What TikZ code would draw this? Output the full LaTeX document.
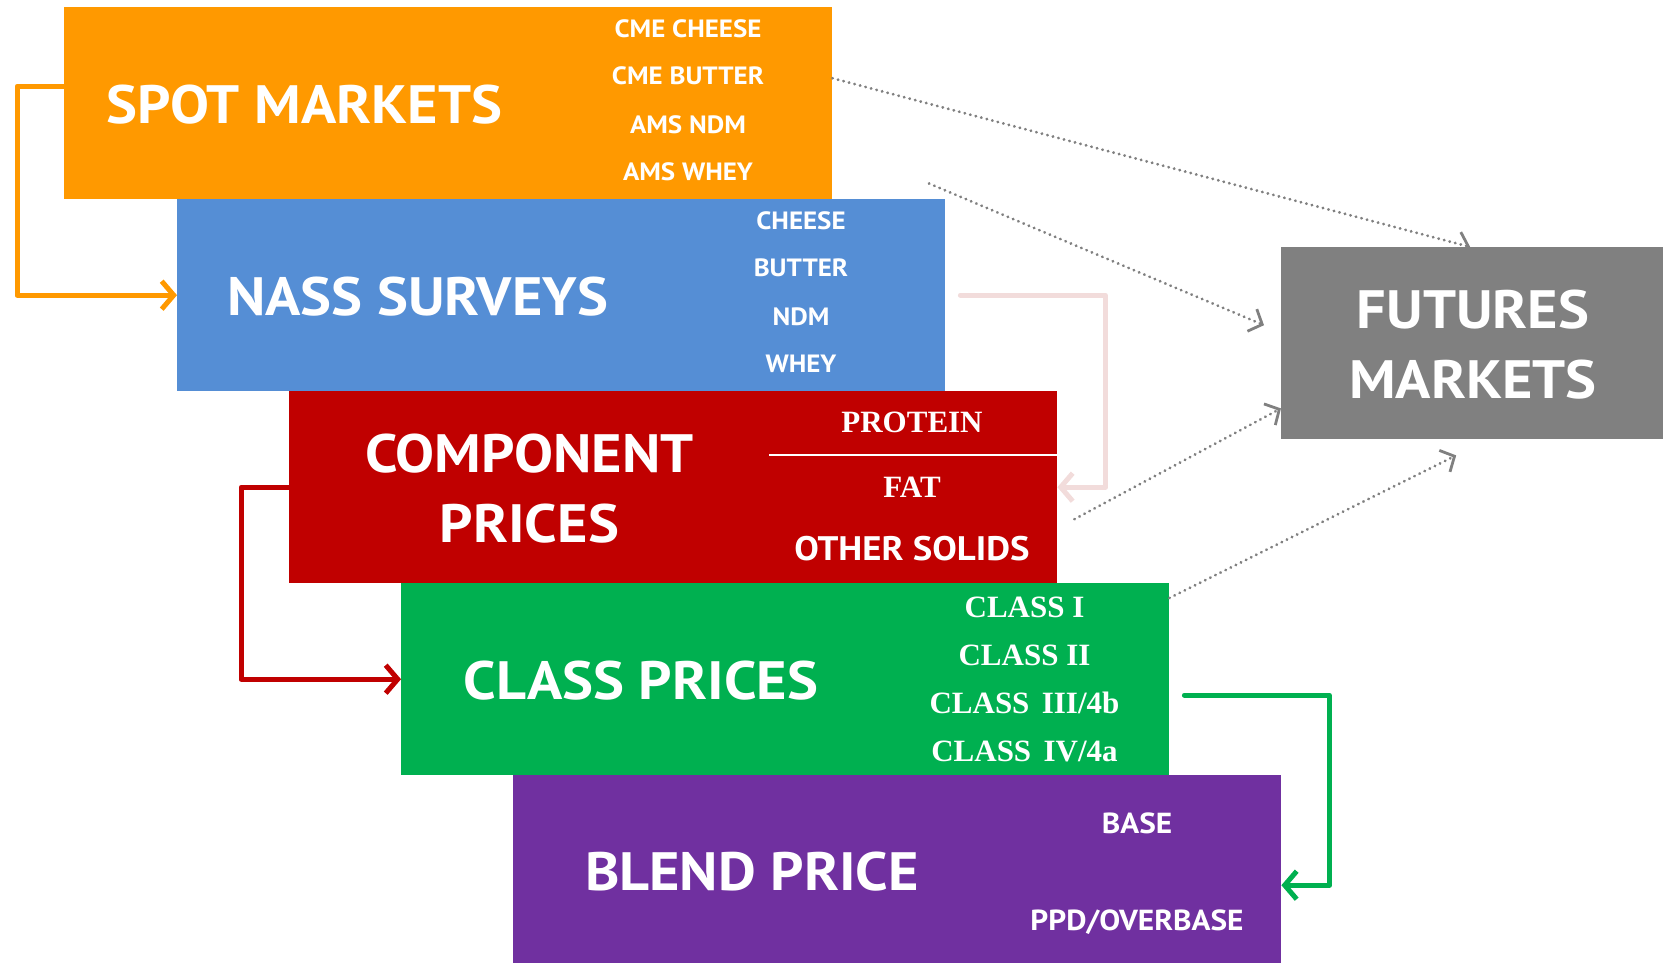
\documentclass[tikz,border=0pt]{standalone}
\usepackage{fontspec}
\setmainfont{PT Sans}[FakeStretch=1.08]
\newfontfamily\serifx{Liberation Serif}
\usetikzlibrary{arrows.meta}
\definecolor{cOrange}{HTML}{FF9900}
\definecolor{cBlue}{HTML}{558ED5}
\definecolor{cRed}{HTML}{C00000}
\definecolor{cGreen}{HTML}{00B050}
\definecolor{cPurple}{HTML}{7030A0}
\definecolor{cGray}{HTML}{808080}
\definecolor{cPink}{HTML}{F2DCDB}
\begin{document}
\begin{tikzpicture}[x=1pt,y={(0pt,-1pt)},
  box/.style={rectangle, inner sep=0pt, minimum width=768pt, minimum height=192pt, anchor=north west},
  big/.style={text=white, inner sep=0pt, anchor=base, font=\bfseries\fontsize{54}{60}\selectfont},
  small/.style={text=white, inner sep=0pt, anchor=base, font=\bfseries\fontsize{25}{30}\selectfont},
  mid/.style={text=white, inner sep=0pt, anchor=base, font=\bfseries\fontsize{29}{34}\selectfont},
  midbig/.style={text=white, inner sep=0pt, anchor=base, font=\bfseries\fontsize{34}{40}\selectfont},
  ser/.style={text=white, inner sep=0pt, anchor=base, font=\serifx\bfseries\fontsize{31}{36}\selectfont},
  thk/.style={line width=5pt, line join=round, line cap=round, -{Straight Barb[length=12pt,width=28pt,line width=5pt]}},
  dotarr/.style={draw=cGray, line width=2.9pt, line cap=round, dash pattern=on 0.3pt off 5.4pt, -{Straight Barb[length=11pt,width=24pt,line width=2.8pt]}}
]
\useasboundingbox (0,0) rectangle (1663,963);
% boxes
\node[box, fill=cOrange] (spot) at (64,7) {};
\node[box, fill=cBlue] (nass) at (177,199) {};
\node[box, fill=cRed] (comp) at (289,391) {};
\node[box, fill=cGreen] (cls) at (401,583) {};
\node[box, fill=cPurple, minimum height=188pt] (blend) at (513,775) {};
\node[box, fill=cGray, minimum width=382pt] (fut) at (1281,247) {};
% spot texts
\node[big] (spotT) at (304.5,124) {SPOT MARKETS};
\node[small] (s1) at (688,37.3) {CME CHEESE};
\node[small] (s2) at (688,85) {CME BUTTER};
\node[small] (s3) at (688,133.3) {AMS NDM};
\node[small] (s4) at (688,181) {AMS WHEY};
% nass texts
\node[big] (nassT) at (417.5,315) {NASS SURVEYS};
\node[small] (n1) at (801,229.3) {CHEESE};
\node[small] (n2) at (801,276.7) {BUTTER};
\node[small] (n3) at (801,325) {NDM};
\node[small] (n4) at (801,372.7) {WHEY};
% component texts
\node[big] (compT1) at (529.4,472.7) {COMPONENT};
\node[big] (compT2) at (529.4,542.7) {PRICES};
\node[ser] (c1) at (912,432.7) {PROTEIN};
\draw[white, line width=1.2pt] (769,455) -- (1057,455);
\node[ser] (c2) at (912,497.7) {FAT};
\node[midbig] (c3) at (912,560) {OTHER SOLIDS};
% class texts
\node[big] (clsT) at (641,699.3) {CLASS PRICES};
\node[ser] (k1) at (1024.5,617.3) {CLASS I};
\node[ser] (k2) at (1024.5,665.7) {CLASS II};
\node[ser] (k3) at (1024.5,713.3) {CLASS\hspace{0.4em}III/4b};
\node[ser] (k4) at (1024.5,761.7) {CLASS\hspace{0.4em}IV/4a};
% blend texts
\node[big] (blendT) at (752,890.7) {BLEND PRICE};
\node[mid] (b1) at (1137,833.3) {BASE};
\node[mid] (b2) at (1137,930) {PPD/OVERBASE};
% futures texts
\node[big] (futT1) at (1473,328.3) {FUTURES};
\node[big] (futT2) at (1473,398.3) {MARKETS};
% solid connectors
\draw[thk, cOrange] ([yshift=17pt]spot.west) -- ++(-47,0) |- (nass.west);
\draw[thk, cRed] (comp.west) -- ++(-48,0) |- (cls.west);
\draw[thk, cPink] ([xshift=15pt]nass.east) -| ([xshift=48pt]comp.east) -- (comp.east);
\draw[thk, cGreen] ([xshift=15pt,yshift=-16pt]cls.east) -- ++(145,0) |- ([yshift=-16pt]blend.east);
% dotted connectors
\coordinate (d2s) at (929,183.5);
\draw[dotarr] ([yshift=25pt]spot.east) -- ([xshift=-2pt]fut.north);
\draw[dotarr] (d2s) -- ([xshift=-17pt,yshift=18pt]fut.west);
\draw[dotarr] ([xshift=17pt,yshift=-32pt]comp.east) -- ([yshift=31pt]fut.south west);
\draw[dotarr] ([yshift=-15pt]cls.north east) -- ([xshift=-16pt,yshift=-16pt]fut.south);
\end{tikzpicture}
\end{document}
